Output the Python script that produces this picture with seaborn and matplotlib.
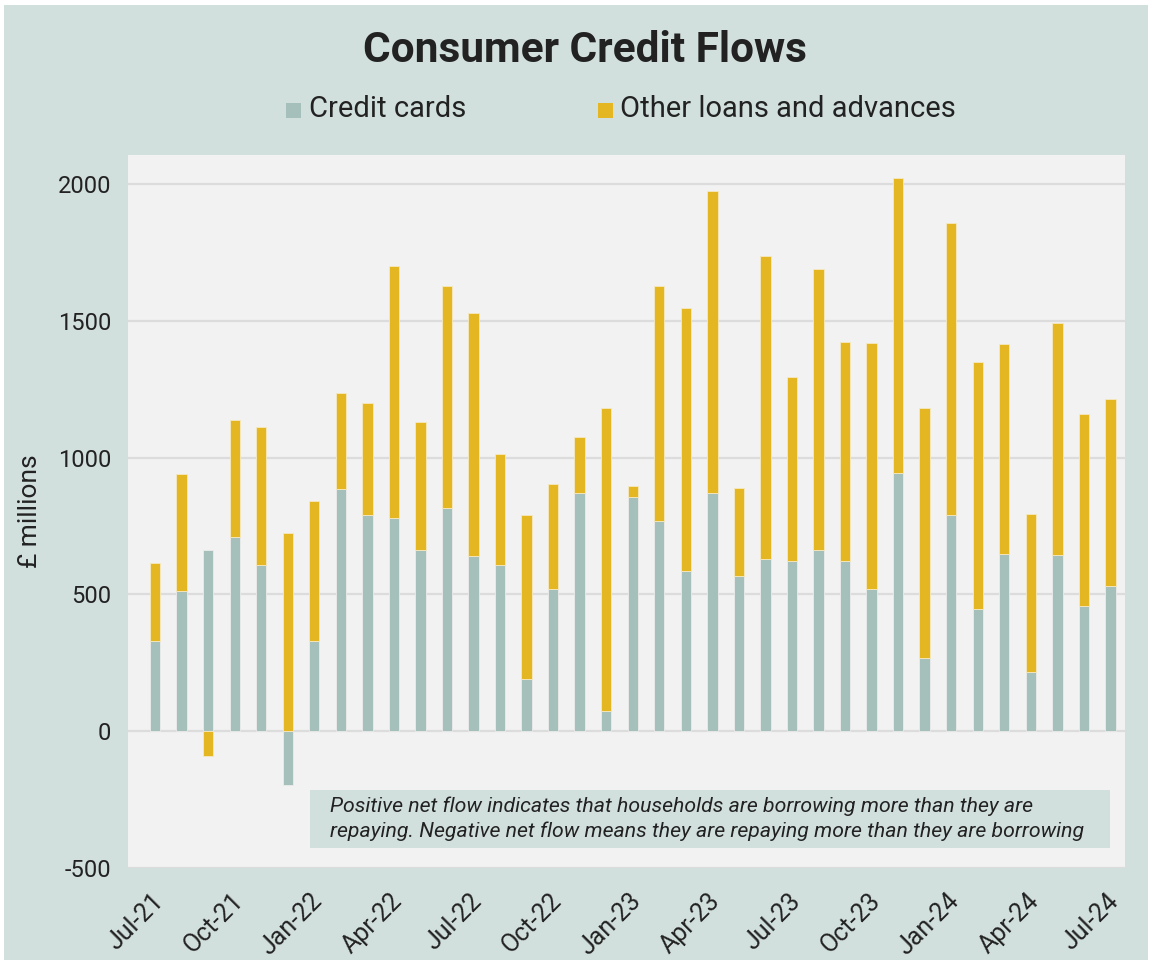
import numpy as np
import pandas as pd
import matplotlib
matplotlib.use("Agg")
import matplotlib.pyplot as plt
import seaborn as sns
from matplotlib.patches import Rectangle
from matplotlib.transforms import ScaledTranslation

# ============================================================
# 数据 (读自原图, £ millions)
# ============================================================
months = pd.date_range("2021-07-01", "2024-07-01", freq="MS").strftime("%b-%y").tolist()

credit_cards = [331, 513, 661, 710, 607, -195, 331, 884, 792, 779, 663, 815, 641,
                607, 190, 518, 871, 74, 856, 770, 587, 869, 569, 628, 621, 664,
                621, 518, 945, 267, 789, 445, 649, 216, 643, 456, 532]

other_loans = [283, 428, -90, 428, 506, 725, 510, 353, 406, 921, 466, 813, 889,
               406, 599, 386, 203, 1109, 42, 858, 960, 1106, 319, 1109, 674, 1024,
               800, 902, 1077, 913, 1069, 906, 766, 579, 849, 704, 681]

tick_labels = months[::3]

# ============================================================
# 样式
# ============================================================
BG = "#D2E0DD"
PLOT_BG = "#F2F2F2"
GRID = "#DCDCDC"
C_CARD = "#A5BFBA"
C_OTHER = "#E3B622"
TXT = "#222222"

sns.set_theme(style="white")
plt.rcParams['font.family'] = ['Roboto', 'DejaVu Sans']

df = pd.DataFrame({"month": months, "card": credit_cards, "other": other_loans})
card = np.array(credit_cards)
other = np.array(other_loans)
# Excel 式堆叠: 正负值分别堆叠
other_bottom = np.where(other >= 0, np.maximum(card, 0), np.minimum(card, 0))

fig = plt.figure(figsize=(11.51, 9.64), dpi=100)
fig.patch.set_facecolor("white")
fig.patches.append(Rectangle((4 / 1151, 4 / 964), 1144 / 1151, 955 / 964,
                             transform=fig.transFigure, facecolor=BG,
                             edgecolor="none", zorder=-10))

ax = fig.add_axes([128 / 1151, 96 / 964, 997 / 1151, 713 / 964])
ax.set_facecolor(PLOT_BG)

sns.barplot(data=df, x="month", y="card", color=C_CARD, width=0.39,
            saturation=1, edgecolor="#ECECEC", linewidth=0.6, ax=ax, zorder=3)
sns.barplot(data=df, x="month", y="other", color=C_OTHER, width=0.39,
            saturation=1, edgecolor="#F5E9C0", linewidth=0.6, ax=ax, zorder=3,
            bottom=other_bottom)

ax.set_xlim(-1.02, 36.55)
ax.set_ylim(-500, 2106)
ax.set_yticks([-500, 0, 500, 1000, 1500, 2000])
ax.set_yticklabels(["-500", "0", "500", "1000", "1500", "2000"])
ax.yaxis.grid(True, color=GRID, linewidth=1.6, zorder=0)
ax.set_axisbelow(True)

ax.set_xticks(range(0, len(months), 3))
ax.set_xticklabels(tick_labels, rotation=45, ha="right", rotation_mode="anchor")
ax.tick_params(axis="x", length=0, pad=10, labelsize=18, colors=TXT)
ax.tick_params(axis="y", length=0, pad=12, labelsize=17, colors=TXT)
shift = ScaledTranslation(-0.04, -0.07, fig.dpi_scale_trans)
for lab in ax.get_xticklabels():
    lab.set_transform(lab.get_transform() + shift)

ax.set_xlabel("")
ax.set_ylabel("£ millions", fontsize=19, color=TXT)
ax.yaxis.set_label_coords(-0.086, 0.5)
for s in ax.spines.values():
    s.set_visible(False)

# 标题与图例
fig.text(0.508, 1 - 50 / 964, "Consumer Credit Flows", ha="center", va="center",
         fontsize=30.5, fontweight="bold", color=TXT)
fig.patches.append(Rectangle((286 / 1151, 1 - 118 / 964), 15 / 1151, 15 / 964,
                             transform=fig.transFigure, facecolor=C_CARD,
                             edgecolor="none", zorder=2))
fig.text(309 / 1151, 1 - 109 / 964, "Credit cards", ha="left", va="center",
         fontsize=21, color=TXT)
fig.patches.append(Rectangle((598 / 1151, 1 - 118 / 964), 15 / 1151, 15 / 964,
                             transform=fig.transFigure, facecolor=C_OTHER,
                             edgecolor="none", zorder=2))
fig.text(620 / 1151, 1 - 109 / 964, "Other loans and advances", ha="left",
         va="center", fontsize=21, color=TXT)

# 注释框
fig.patches.append(Rectangle((310 / 1151, 1 - 848 / 964), 800 / 1151, 58 / 964,
                             transform=fig.transFigure, facecolor=BG,
                             edgecolor="none", zorder=5))
fig.text(330 / 1151, 1 - 819 / 964,
         "Positive net flow indicates that households are borrowing more than they are\n"
         "repaying. Negative net flow means they are repaying more than they are borrowing",
         ha="left", va="center", fontsize=15.3, style="italic", color=TXT,
         linespacing=1.35, zorder=6)

fig.savefig("out.png", dpi=100, facecolor=fig.get_facecolor())
